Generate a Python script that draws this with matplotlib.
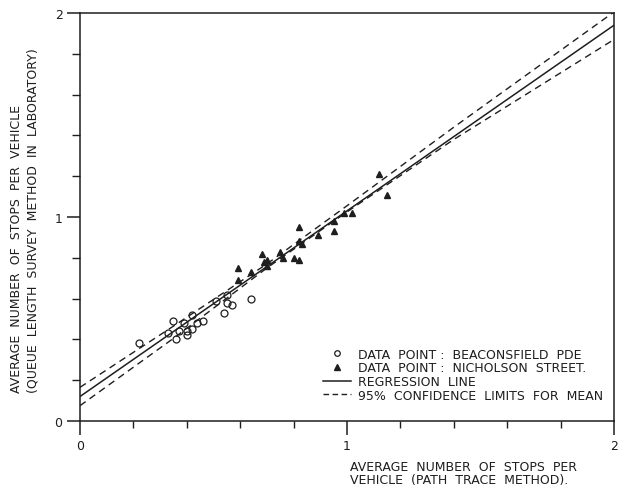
import numpy as np
import matplotlib.pyplot as plt
import matplotlib as mpl

mpl.rcParams['font.family'] = 'DejaVu Sans'
mpl.rcParams['font.size'] = 9

INK = '#1e1e1e'

# Beaconsfield Pde (open circles)
beac_x = [0.22, 0.33, 0.35, 0.36, 0.37, 0.39, 0.40, 0.40, 0.42, 0.42, 0.44, 0.46,
          0.51, 0.54, 0.55, 0.55, 0.57, 0.64]
beac_y = [0.38, 0.43, 0.49, 0.40, 0.44, 0.48, 0.44, 0.42, 0.52, 0.45, 0.48, 0.49,
          0.59, 0.53, 0.58, 0.62, 0.57, 0.60]

# Nicholson Street (filled triangles)
nich_x = [0.59, 0.59, 0.64, 0.68, 0.69, 0.70, 0.70, 0.75, 0.76, 0.80, 0.82, 0.82,
          0.82, 0.83, 0.89, 0.95, 0.95, 0.99, 1.02, 1.12, 1.15]
nich_y = [0.75, 0.69, 0.73, 0.82, 0.78, 0.79, 0.76, 0.83, 0.80, 0.80, 0.79, 0.95,
          0.88, 0.87, 0.91, 0.93, 0.98, 1.02, 1.02, 1.21, 1.11]

# regression line and 95% confidence limits for mean
reg_x = [0.0, 2.0]
reg_y = [0.12, 1.94]
ci_x = [0.0, 0.35, 0.7, 1.0, 1.4, 2.0]
ci_hi = [0.165, 0.465, 0.770, 1.055, 1.440, 2.005]
ci_lo = [0.075, 0.405, 0.750, 1.025, 1.380, 1.870]

fig = plt.figure(figsize=(6.21, 4.89), dpi=100)
ax = fig.add_axes([0.1288, 0.137, 0.8599, 0.8344])

ax.plot(reg_x, reg_y, color=INK, lw=1.1)
ax.plot(ci_x, ci_hi, color=INK, lw=1.0, dashes=(5, 3.5))
ax.plot(ci_x, ci_lo, color=INK, lw=1.0, dashes=(5, 3.5))
ax.plot(beac_x, beac_y, 'o', ms=5, mfc='none', mec=INK, mew=0.9)
ax.plot(nich_x, nich_y, '^', ms=5, color=INK)

ax.set_xlim(0, 2)
ax.set_ylim(0, 2)
for s in ax.spines.values():
    s.set_color(INK)
    s.set_linewidth(1.1)

ax.set_xticks([0, 1, 2])
ax.set_yticks([0, 1, 2])
ax.set_xticks(np.arange(0.2, 2.0, 0.2), minor=True)
ax.set_yticks(np.arange(0.2, 2.0, 0.2), minor=True)
ax.tick_params(axis='x', which='major', direction='out', length=10, width=1.1,
               pad=3, colors=INK, labelsize=9)
ax.tick_params(axis='x', which='minor', direction='out', length=5, width=1.0, colors=INK)
ax.tick_params(axis='y', which='major', direction='out', length=9.5, width=1.1,
               pad=3, colors=INK, labelsize=9)
ax.tick_params(axis='y', which='minor', direction='out', length=5.5, width=1.0, colors=INK)

handles = [
    plt.Line2D([], [], ls='none', marker='o', ms=4, mfc='none', mec=INK, mew=0.9),
    plt.Line2D([], [], ls='none', marker='^', ms=4, color=INK),
    plt.Line2D([], [], color=INK, lw=1.1),
    plt.Line2D([], [], color=INK, lw=1.0, dashes=(4, 2.5)),
]
labels = ['DATA  POINT :  BEACONSFIELD  PDE',
          'DATA  POINT :  NICHOLSON  STREET.',
          'REGRESSION  LINE',
          '95%  CONFIDENCE  LIMITS  FOR  MEAN']
leg = ax.legend(handles, labels, loc='lower right', bbox_to_anchor=(1.0, 0.02),
                frameon=False, handlelength=2.2, handletextpad=0.55,
                labelspacing=0.05, fontsize=9)
for t in leg.get_texts():
    t.set_color(INK)

fig.text(350 / 621, 1 - 461 / 489,
         'AVERAGE  NUMBER  OF  STOPS  PER\nVEHICLE  (PATH  TRACE  METHOD).',
         ha='left', va='top', color=INK, fontsize=9, linespacing=1.0)
fig.text(25 / 621, 1 - 393 / 489,
         'AVERAGE  NUMBER  OF  STOPS  PER  VEHICLE\n(QUEUE  LENGTH  SURVEY  METHOD  IN  LABORATORY)',
         ha='center', va='bottom', rotation=90, multialignment='left',
         color=INK, fontsize=9, linespacing=1.3)

fig.savefig('out.png', dpi=100)
